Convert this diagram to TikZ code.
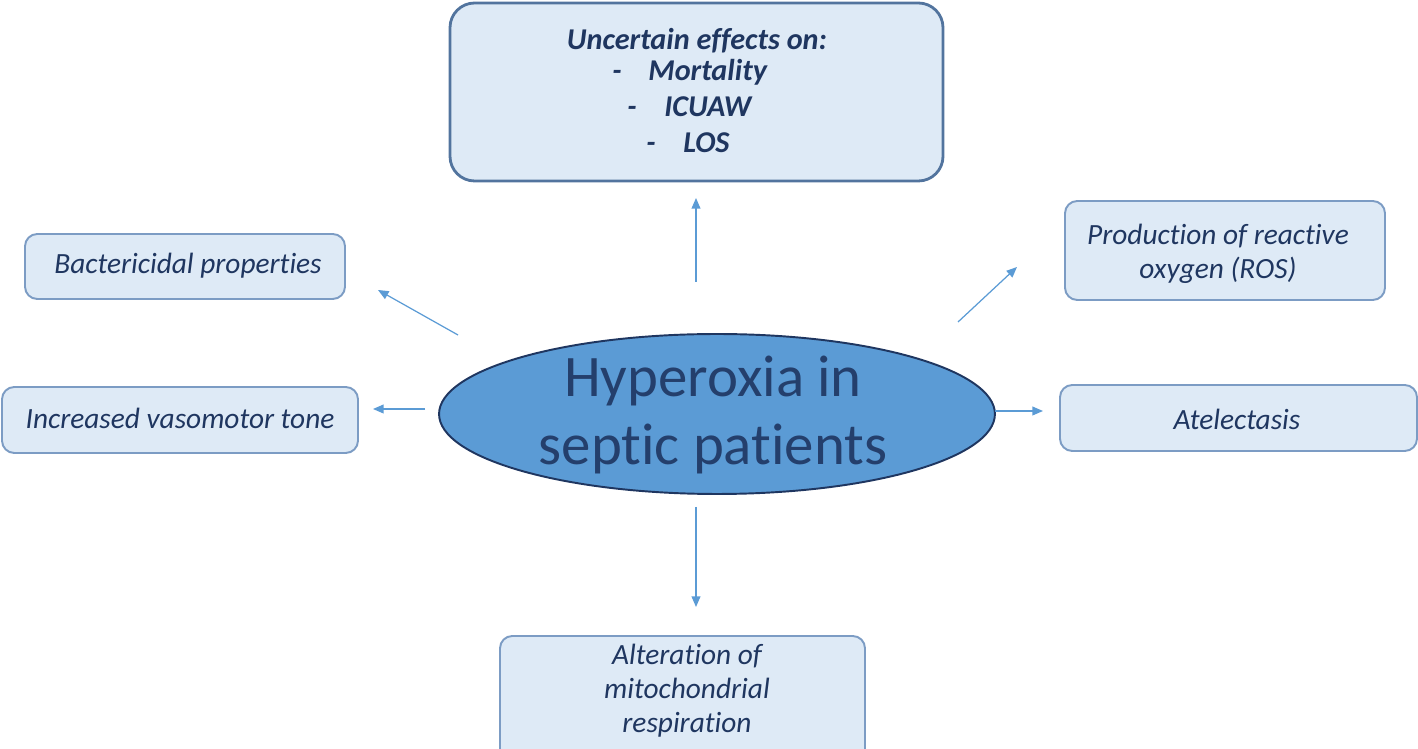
\documentclass[tikz,border=0pt]{standalone}
\usepackage{fontspec}
\setmainfont{Carlito}[Ligatures={NoCommon}]
\usetikzlibrary{shapes.geometric,arrows.meta}
\definecolor{boxfill}{HTML}{DEEAF6}
\definecolor{boxline}{HTML}{7C9CC4}
\definecolor{topline}{HTML}{52749E}
\definecolor{navy}{HTML}{1F3660}
\definecolor{ellfill}{HTML}{5B9BD5}
\definecolor{elltext}{HTML}{243F6C}
\definecolor{arr}{HTML}{5B9BD5}
\begin{document}
\begin{tikzpicture}[x=0.02cm,y=-0.02cm,
  box/.style={draw=boxline,fill=boxfill,line width=1.1pt,rounded corners=7pt},
  txt/.style={text=navy,font=\fontsize{16.7}{19.3}\selectfont\itshape,inner sep=0pt},
  btxt/.style={text=navy,font=\fontsize{17.2}{20}\selectfont\bfseries\itshape,inner sep=0pt,text height=12pt,text depth=4pt},
  arrow/.style={draw=arr,line width=0.7pt,-{Triangle[length=6pt,width=5pt]}}]
\useasboundingbox (0,0) rectangle (1418,749);
\begin{scope}
\clip (0,0) rectangle (1418,749);
% top box
\draw[box,draw=topline,line width=1.6pt,rounded corners=14pt] (450,3) rectangle (943,181);
\node[btxt] (t1) at (697,42) {Uncertain effects on:};
\node[btxt,anchor=west] (d1) at (612,73) {-};
\node[btxt,anchor=west] (w1) at (648,73) {Mortality};
\node[btxt,anchor=west] (d2) at (627,109) {-};
\node[btxt,anchor=west] (w2) at (664,109) {ICUAW};
\node[btxt,anchor=west] (d3) at (646,145) {-};
\node[btxt,anchor=west] (w3) at (683,145) {LOS};
% left boxes
\draw[box] (25,234) rectangle (345,299);
\node[txt] (bact) at (188,266) {Bactericidal properties};
\draw[box] (2,387) rectangle (358,453);
\node[txt] (vaso) at (180,418) {Increased vasomotor tone};
% right boxes
\draw[box] (1065,201) rectangle (1385,300);
\node[txt,align=center] (ros) at (1218,254) {Production of reactive\\oxygen (ROS)};
\draw[box] (1060,385) rectangle (1417,451);
\node[txt] (atel) at (1237,419) {Atelectasis};
% bottom box
\draw[box] (500,636) rectangle (865,770);
\node[txt,align=center] (mito) at (687,691) {Alteration of\\mitochondrial\\respiration};
\end{scope}
% ellipse
\node[ellipse,draw=navy,fill=ellfill,line width=1.1pt,minimum width=11.12cm,minimum height=3.2cm,inner sep=0pt] (hyp) at (717,414) {};
\node[text=elltext,align=center,font=\fontsize{33.5}{38.5}\selectfont,inner sep=0pt] (center) at (713,415) {Hyperoxia in\\septic patients};
% arrows
\coordinate (a1s) at (696,282); \coordinate (a1e) at (696,198);
\coordinate (a2s) at (458,335); \coordinate (a2e) at (378,290);
\coordinate (a3s) at (425,409); \coordinate (a3e) at (373,409);
\coordinate (a4s) at (958,322); \coordinate (a4e) at (1017,267);
\coordinate (a5s) at (995,411); \coordinate (a5e) at (1043,411);
\coordinate (a6s) at (696,507); \coordinate (a6e) at (696,607);
\draw[arrow] (a1s) -- (a1e);
\draw[arrow] (a2s) -- (a2e);
\draw[arrow] (a3s) -- (a3e);
\draw[arrow] (a4s) -- (a4e);
\draw[arrow] (a5s) -- (a5e);
\draw[arrow] (a6s) -- (a6e);
\end{tikzpicture}
\end{document}
